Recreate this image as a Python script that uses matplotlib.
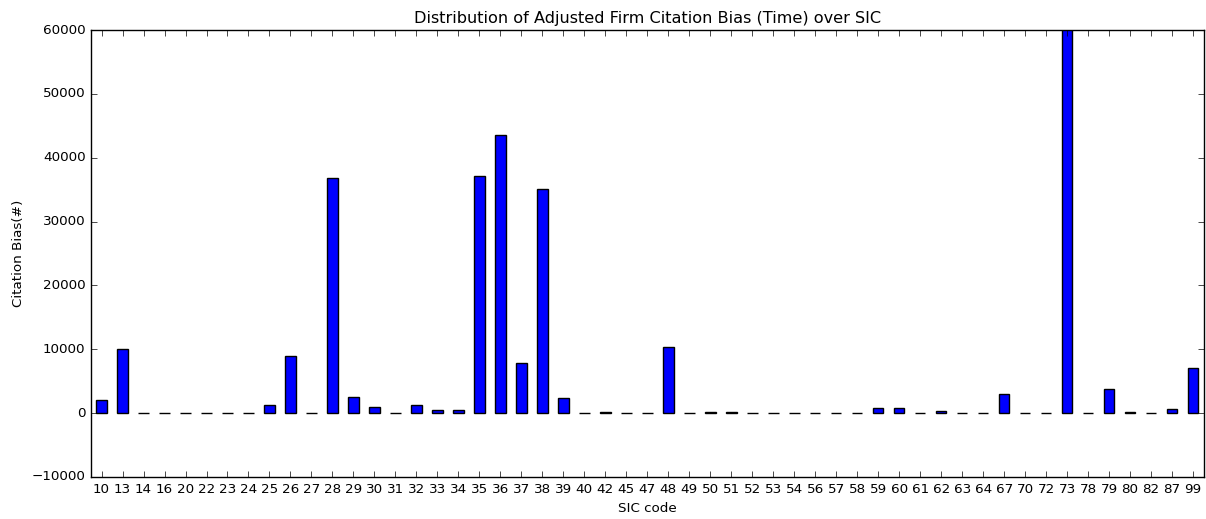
import numpy as np
import matplotlib
matplotlib.use("Agg")
import matplotlib.pyplot as plt

# SIC codes and citation bias values
sic_codes = ['10', '13', '14', '16', '20', '22', '23', '24', '25', '26',
             '27', '28', '29', '30', '31', '32', '33', '34', '35', '36',
             '37', '38', '39', '40', '42', '45', '47', '48', '49', '50',
             '51', '52', '53', '54', '56', '57', '58', '59', '60', '61',
             '62', '63', '64', '67', '70', '72', '73', '78', '79', '80',
             '82', '87', '99']
citation_bias = [2000, 10000, 0, 0, 0, 0, 0, 0, 1200, 9000,
                 0, 36800, 2600, 900, 0, 1300, 450, 450, 37200, 43500,
                 7800, 35100, 2300, 0, 150, 0, 0, 10400, 0, 120,
                 150, 0, 0, 0, 0, 0, 0, 800, 800, 0,
                 350, 0, 0, 3000, 0, 0, 61000, 0, 3800, 150,
                 0, 600, 7100]

plt.style.use('classic')
plt.rcParams['font.size'] = 9.7

fig = plt.figure(figsize=(12.06, 5.19), dpi=100)
ax = fig.add_axes([0.0755, 0.081, 0.9225, 0.861])

x = np.arange(len(sic_codes))
ax.bar(x, citation_bias, width=0.5, color='b', edgecolor='k', linewidth=1)

ax.set_xlim(-0.5, len(sic_codes) - 0.5)
ax.set_ylim(-10000, 60000)
ax.set_xticks(x)
ax.set_xticklabels(sic_codes, rotation=0)
ax.set_xlabel('SIC code')
ax.set_ylabel('Citation Bias(#)')
ax.set_title('Distribution of Adjusted Firm Citation Bias (Time) over SIC')

fig.savefig('out.png', dpi=100)
